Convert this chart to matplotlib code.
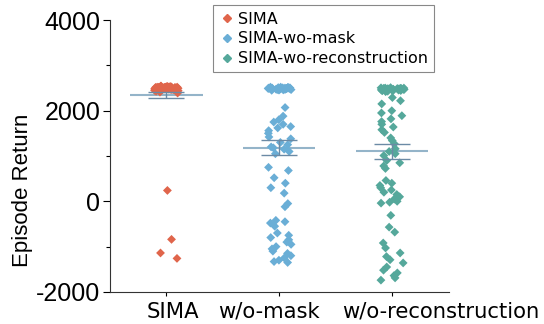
import numpy as np
import pandas as pd
import matplotlib
matplotlib.use("Agg")
import matplotlib.pyplot as plt
import matplotlib.transforms as mtransforms
import seaborn as sns
from matplotlib.lines import Line2D

plt.rcParams['axes.unicode_minus'] = False

# episode returns per variant
sima = [2510, 2480, 2495, 2530, 2470, 2505, 2490, 2520, 2460, 2500,
        2485, 2515, 2475, 2540, 2495, 2505, 2450, 2490, 2525, 2480,
        2500, 2470, 2510, 2495, 2535, 2465, 2485, 2505, 2490, 2520,
        2440, 2500, 2480, 2515, 2495, 2470, 2530, 2490, 2505, 2475,
        2510, 2485, 2460, 2500, 2520, 2490, 2480, 2545, 2495, 2505,
        2470, 2515, 2490, 2430, 2500, 2485, 2525, 2475, 2510, 2495,
        2480, 2505, 2490, 2520, 2465, 2500, 2485, 2410, 2495, 2510,
        2475, 2530, 2490, 2500, 2480, 2515, 2495, 2470, 2505, 2490,
        2520, 2485, 2500, 2390, 2510,
        240, -840, -1140, -1260]

wo_mask = [2500, 2470, 2490, 2510, 2480, 2460, 2495, 2505, 2475, 2520,
           2485, 2450, 2500, 2490, 2465, 2515, 2480, 2495, 2470, 2505,
           2490, 2455, 2510, 2485, 2475, 2500, 2495, 2480, 2520, 2465,
           2490, 2500,
           2070, 1880, 1800, 1750, 1700, 1650, 1620, 1560, 1500,
           1420, 1380, 1300, 1250, 1200, 1180, 1150, 1100, 1050,
           750, 680, 520, 400, 300, 180, -50, -120,
           -420, -450, -480, -550,
           -700, -750, -800, -850, -900, -950, -1000, -1050,
           -1100, -1150, -1200, -1250, -1300, -1330, -1350]

wo_recon = [2480, 2450, 2500, 2470, 2490, 2430, 2460, 2510, 2475, 2440,
            2495, 2465, 2485, 2420, 2500, 2455, 2480, 2470, 2490, 2445,
            2505, 2460, 2475, 2485, 2435, 2495, 2470,
            2290, 2220, 2150, 2000, 1950, 1890,
            1820, 1760, 1700, 1640, 1580, 1520, 1400, 1340, 1270,
            1160, 1100, 1050, 1010, 900, 850, 780, 725,
            460, 400, 350, 300, 250, 200, 150, 100, 50, 0, -20, -40,
            -310, -570, -680, -920, -1030,
            -1140, -1220, -1290, -1360,
            -1450, -1520, -1580, -1640, -1690, -1740]

groups = ["SIMA", "w/o-mask", "w/o-reconstruction"]
legend_labels = ["SIMA", "SIMA-wo-mask", "SIMA-wo-reconstruction"]
colors = ["#e0654b", "#6aaed6", "#55a89b"]
values = [sima, wo_mask, wo_recon]

df = pd.DataFrame({
    "group": np.repeat(groups, [len(v) for v in values]),
    "ret": np.concatenate(values),
})

fig = plt.figure(figsize=(5.44, 3.24), dpi=100)
ax = fig.add_axes([0.202, 0.099, 0.623, 0.839])

np.random.seed(3)
sns.stripplot(data=df, x="group", y="ret", hue="group", order=groups,
              palette=colors, marker="D", size=4.5, jitter=0.11,
              linewidth=0, legend=False, ax=ax, zorder=2)

# mean line + standard error
for i, v in enumerate(values):
    v = np.asarray(v, dtype=float)
    m = v.mean()
    se = v.std(ddof=1) / np.sqrt(len(v))
    ax.hlines(m, i - 0.32, i + 0.32, color="#94b4c9", lw=1.5, zorder=1)
    ax.errorbar(i, m, yerr=se, fmt="none", ecolor="#6b8aa5", elinewidth=1,
                capsize=13, capthick=1, zorder=3)

ax.set_xlim(-0.5, 2.5)
ax.set_ylim(-2000, 4000)
ax.set_yticks([-2000, 0, 2000, 4000])
ax.set_yticks([-1000, 1000, 3000], minor=True)
ax.set_yticklabels(["-2000", "0", "2000", "4000"], fontfamily="Liberation Sans", fontsize=18)
ax.set_xticks(range(3))
ax.set_xticklabels(groups, fontsize=15.2)
ax.tick_params(axis="y", which="major", length=5, width=0.8, pad=2)
ax.tick_params(axis="y", which="minor", length=3, width=0.8)
ax.tick_params(axis="x", length=3, width=0.8, pad=4)

# nudge the category labels sideways so the long ones don't collide
for lab, dx in zip(ax.get_xticklabels(), [7, -10, 48]):
    lab.set_transform(lab.get_transform() +
                      mtransforms.ScaledTranslation(dx / 100, 0, fig.dpi_scale_trans))

ax.set_xlabel("")
ax.set_ylabel("Episode Return", fontfamily="Liberation Sans", fontsize=16, y=0.375, labelpad=2)

for s in ["top", "right"]:
    ax.spines[s].set_visible(False)
for s in ["left", "bottom"]:
    ax.spines[s].set_linewidth(0.8)
    ax.spines[s].set_color("#333333")

handles = [Line2D([], [], marker="D", ls="none", color=c, markersize=4.5) for c in colors]
leg = ax.legend(handles, legend_labels, loc="upper left", bbox_to_anchor=(0.304, 1.055),
                borderaxespad=0, fontsize=11.5, fancybox=False, handletextpad=0.15,
                handlelength=1.0, borderpad=0.4, labelspacing=0.3, framealpha=1)
leg.get_frame().set_edgecolor("#888888")
leg.get_frame().set_linewidth(0.8)

fig.savefig("out.png", dpi=100)
